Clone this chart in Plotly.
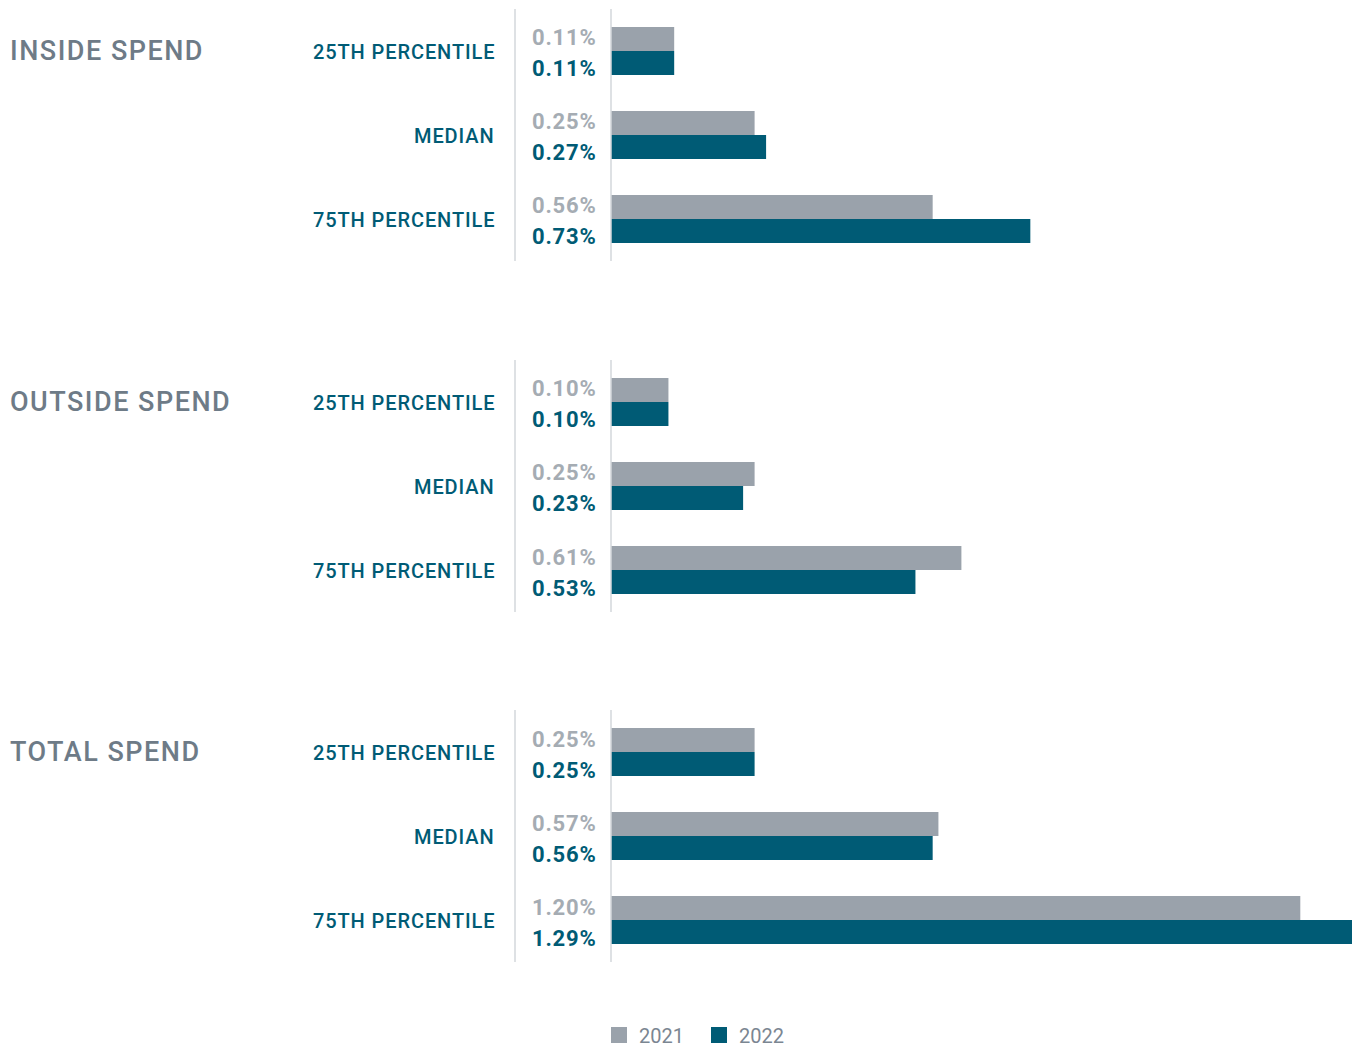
import plotly.graph_objects as go
from plotly.subplots import make_subplots

sections = ["INSIDE SPEND", "OUTSIDE SPEND", "TOTAL SPEND"]
categories = ["25TH PERCENTILE", "MEDIAN", "75TH PERCENTILE"]
years = ["2021", "2022"]
values_2021 = [[0.11, 0.25, 0.56], [0.10, 0.25, 0.61], [0.25, 0.57, 1.20]]
values_2022 = [[0.11, 0.27, 0.73], [0.10, 0.23, 0.53], [0.25, 0.56, 1.29]]

C21 = "#9aa2ab"
C22 = "#005b75"
C21_TXT = "#a5acb3"
TITLE_C = "#6e7b87"
LINE_C = "#d3d7db"
FONT = "Roboto"

W, H = 1357, 1080  # figure slightly taller than the 1048 viewport so the legend fits
px_x = lambda p: p / W
px_y = lambda p: 1 - p / H

panel_tops = [9, 360, 710]
panel_h = 252


def spaced(t, ls):
    return f'<span style="letter-spacing:{ls}px">{t}</span>'


fig = make_subplots(rows=3, cols=1)

for i, sec in enumerate(sections):
    row = i + 1
    fig.add_trace(go.Bar(y=categories, x=values_2021[i], orientation="h", name=years[0],
                         marker=dict(color=C21, line=dict(width=0)),
                         showlegend=False, hoverinfo="skip"), row=row, col=1)
    fig.add_trace(go.Bar(y=categories, x=values_2022[i], orientation="h", name=years[1],
                         marker=dict(color=C22, line=dict(width=0)),
                         showlegend=False, hoverinfo="skip"), row=row, col=1)

# legend entries (square swatches)
for name, col in zip(years, [C21, C22]):
    fig.add_trace(go.Scatter(x=[None], y=[None], mode="markers", name=name,
                             marker=dict(symbol="square", size=16, color=col),
                             showlegend=True, hoverinfo="skip"), row=3, col=1)

annotations = []
shapes = []
for i, sec in enumerate(sections):
    ax = "" if i == 0 else str(i + 1)
    top = panel_tops[i]
    fig.layout["yaxis" + ax].update(domain=[px_y(top + panel_h), px_y(top)],
                                     type="category", categoryorder="array",
                                     categoryarray=categories, range=[2.5, -0.5],
                                     showticklabels=False, showgrid=False, zeroline=False,
                                     showline=False, ticks="", fixedrange=True)
    fig.layout["xaxis" + ax].update(domain=[px_x(611), px_x(1352)], range=[0, 1.29],
                                     visible=False, fixedrange=True)
    yref = "y" + ax
    annotations.append(dict(text=spaced(sec, 1.5), xref="paper", x=px_x(8), xanchor="left",
                            yref=yref, y=0, yshift=0, showarrow=False,
                            font=dict(family=FONT, size=27, color=TITLE_C, weight=500)))
    for j, cat in enumerate(categories):
        annotations.append(dict(text=spaced(cat, 0.9), xref="paper", x=px_x(497), xanchor="right",
                                yref=yref, y=j, yshift=-1, showarrow=False,
                                font=dict(family=FONT, size=20, color=C22, weight=500)))
        annotations.append(dict(text=spaced(f"{values_2021[i][j]:.2f}%", 0.8), xref="paper",
                                x=px_x(599), xanchor="right", yref=yref, y=j, yshift=13,
                                showarrow=False,
                                font=dict(family=FONT, size=22, color=C21_TXT, weight=700)))
        annotations.append(dict(text=spaced(f"{values_2022[i][j]:.2f}%", 0.8), xref="paper",
                                x=px_x(599), xanchor="right", yref=yref, y=j, yshift=-18,
                                showarrow=False,
                                font=dict(family=FONT, size=22, color=C22, weight=700)))
    for xp in (515, 611):
        shapes.append(dict(type="line", xref="paper", x0=px_x(xp), x1=px_x(xp),
                           yref=yref + " domain", y0=0, y1=1,
                           line=dict(color=LINE_C, width=1.5)))

fig.update_layout(
    width=W, height=H, margin=dict(l=0, r=0, t=0, b=0),
    paper_bgcolor="white", plot_bgcolor="white",
    barmode="group", bargap=0.4286, bargroupgap=0,
    annotations=annotations, shapes=shapes,
    showlegend=True,
    legend=dict(orientation="h", x=px_x(599), xanchor="left", y=px_y(1035), yanchor="middle",
                font=dict(family=FONT, size=20, color="#7b8692"), itemwidth=30,
                entrywidth=55, traceorder="normal", bgcolor="rgba(0,0,0,0)"),
    font=dict(family=FONT),
)

fig.write_html("out.html", config={"displayModeBar": False},
               post_script="document.body.style.margin='0';document.body.style.overflow='hidden';")
